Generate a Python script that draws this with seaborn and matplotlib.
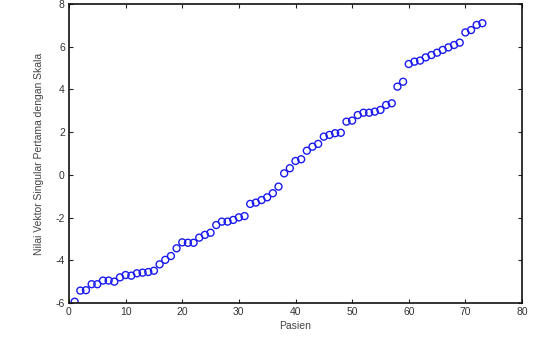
import matplotlib
matplotlib.use("Agg")
import matplotlib.pyplot as plt
import seaborn as sns
import pandas as pd

pasien = list(range(1, 74))
nilai = [-5.94, -5.42, -5.40, -5.12, -5.12, -4.95, -4.95, -5.00, -4.80, -4.69,
         -4.72, -4.61, -4.58, -4.55, -4.49, -4.19, -3.98, -3.80, -3.44, -3.16,
         -3.18, -3.18, -2.94, -2.81, -2.71, -2.35, -2.19, -2.19, -2.11, -1.99,
         -1.93, -1.36, -1.30, -1.18, -1.05, -0.86, -0.55, 0.07, 0.31, 0.65,
         0.73, 1.13, 1.32, 1.45, 1.79, 1.87, 1.95, 1.97, 2.49, 2.54,
         2.80, 2.91, 2.91, 2.96, 3.04, 3.27, 3.35, 4.13, 4.36, 5.19,
         5.30, 5.35, 5.50, 5.61, 5.72, 5.85, 5.97, 6.08, 6.19, 6.67,
         6.78, 7.02, 7.10]
xticks = [0, 10, 20, 30, 40, 50, 60, 70, 80]
yticks = [-6, -4, -2, 0, 2, 4, 6, 8]

df = pd.DataFrame({"Pasien": pasien, "Nilai": nilai})

sns.set_theme(style="white")
plt.rcParams['font.family'] = ['Liberation Sans', 'DejaVu Sans']
plt.rcParams['axes.unicode_minus'] = False

fig = plt.figure(figsize=(5.54, 3.42), dpi=100)
ax = fig.add_axes([69/554, 1 - 303/342, (522-69)/554, (303-4)/342])
sns.scatterplot(data=df, x="Pasien", y="Nilai", ax=ax, marker="o",
                s=25, facecolors="none", edgecolor="#1a1aee", linewidth=1.0,
                legend=False)
ax.set_xlim(0, 80)
ax.set_ylim(-6, 8)
ax.set_xticks(xticks)
ax.set_yticks(yticks)
ax.tick_params(direction="in", length=3, width=0.8, bottom=True, left=True,
               top=True, right=True,
               labelsize=7.5, labelcolor="#333333", color="#222222", pad=3)
for sp in ax.spines.values():
    sp.set_visible(True)
    sp.set_color("#111111")
    sp.set_linewidth(1.2)
ax.set_xlabel("Pasien", fontsize=7.5, color="#444444", labelpad=3)
ax.set_ylabel("Nilai Vektor Singular Pertama dengan Skala", fontsize=7.5,
              color="#444444", labelpad=8)
fig.savefig("out.png", dpi=100)
